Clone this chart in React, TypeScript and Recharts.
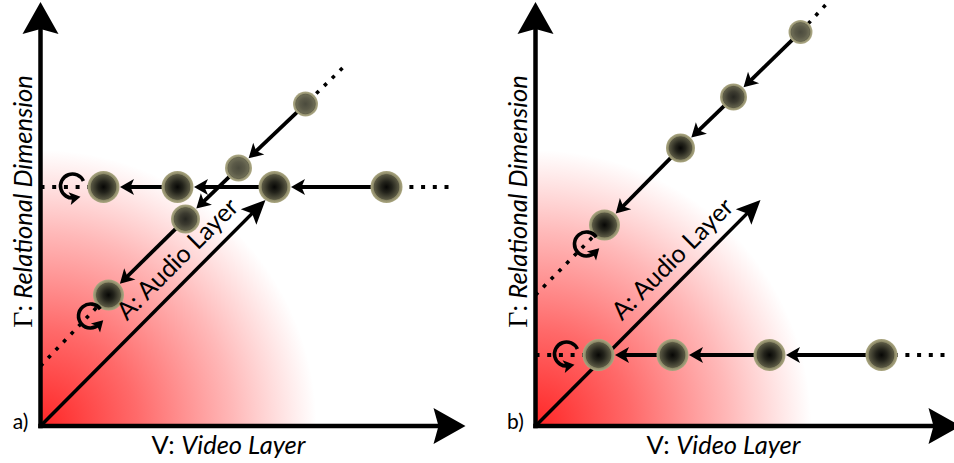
import React from "react";
import {
  ScatterChart,
  Scatter,
  XAxis,
  YAxis,
  ReferenceLine,
  ReferenceDot,
  ReferenceArea,
} from "recharts";

type Pt = { x: number; y: number };

// ---------- data (diagram units, origin at the corner of the axes) ----------
const AXIS_V: Pt[] = [{ x: 0, y: 0 }, { x: 425, y: 0 }];
const AXIS_GAMMA: Pt[] = [{ x: 0, y: 0 }, { x: 0, y: 424 }];
const AXIS_AUDIO: Pt[] = [{ x: 0, y: 0 }, { x: 225, y: 226 }];
const ZONE_RADIUS = 276;

// panel a)
const A_HORIZONTAL: Pt[] = [
  { x: 346, y: 239 },
  { x: 234, y: 239 },
  { x: 137, y: 239 },
  { x: 63, y: 239 },
];
const A_DIAGONAL: Pt[] = [
  { x: 265, y: 322 },
  { x: 198, y: 258 },
  { x: 145, y: 207 },
  { x: 68, y: 131 },
];
const A_HORIZONTAL_TRACK: Pt[] = [{ x: 0, y: 239 }, { x: 408, y: 239 }];
const A_DIAGONAL_TRACK: Pt[] = [{ x: 0, y: 60 }, { x: 302, y: 358 }];
const A_LOOPS: Pt[] = [{ x: 32, y: 240 }, { x: 50, y: 110 }];

// panel b)
const B_HORIZONTAL: Pt[] = [
  { x: 346, y: 71 },
  { x: 234, y: 71 },
  { x: 137, y: 71 },
  { x: 63, y: 71 },
];
const B_DIAGONAL: Pt[] = [
  { x: 265, y: 394 },
  { x: 198, y: 329 },
  { x: 145, y: 278 },
  { x: 69, y: 201 },
];
const B_HORIZONTAL_TRACK: Pt[] = [{ x: 0, y: 71 }, { x: 409, y: 71 }];
const B_DIAGONAL_TRACK: Pt[] = [{ x: 0, y: 131 }, { x: 290, y: 421 }];
const B_LOOPS: Pt[] = [{ x: 31, y: 72 }, { x: 51, y: 182 }];

// text
const LABEL_GAMMA = ["Γ", ": ", "Relational Dimension"];
const LABEL_V = ["V: ", "Video Layer"];
const LABEL_A = "A: Audio Layer";
const GAMMA_POS: Pt = { x: -9, y: 224.5 };
const V_POS: Pt = { x: 188, y: -28 };
const A_POS: Pt = { x: 143, y: 161 };
const TAG_POS: Pt = { x: -20, y: -3 };

// ---------- styles ----------
const FONT = "Lato, 'Open Sans', sans-serif";
const BALL_R = 16;

// ---------- drawing helpers ----------
function headPoints(tx: number, ty: number, ux: number, uy: number, len: number, hw: number, notch: number) {
  const nx = -uy;
  const ny = ux;
  const bx = tx - ux * len;
  const by = ty - uy * len;
  const mx = tx - ux * (len - notch);
  const my = ty - uy * (len - notch);
  return `${tx},${ty} ${bx + nx * hw},${by + ny * hw} ${mx},${my} ${bx - nx * hw},${by - ny * hw}`;
}

type ArrowOpts = { w: number; len: number; hw: number; notch: number; r0?: number; r1?: number; cap?: "butt" | "square" };

const arrowShape = (o: ArrowOpts) => (p: any) => {
  const { x1, y1, x2, y2 } = p;
  const dx = x2 - x1;
  const dy = y2 - y1;
  const L = Math.hypot(dx, dy) || 1;
  const ux = dx / L;
  const uy = dy / L;
  const r0 = o.r0 || 0;
  const r1 = o.r1 || 0;
  const sx = x1 + ux * r0;
  const sy = y1 + uy * r0;
  const tx = x2 - ux * r1;
  const ty = y2 - uy * r1;
  const ex = tx - ux * (o.len - o.notch - 0.5);
  const ey = ty - uy * (o.len - o.notch - 0.5);
  return (
    <g>
      <line x1={sx} y1={sy} x2={ex} y2={ey} stroke="#000" strokeWidth={o.w} strokeLinecap={o.cap || "butt"} />
      <polygon points={headPoints(tx, ty, ux, uy, o.len, o.hw, o.notch)} fill="#000" />
    </g>
  );
};

const loopShape = (a0: number, a1: number) => (p: any) => {
  const { cx, cy } = p;
  const r = 12;
  const rad = (d: number) => (d * Math.PI) / 180;
  const sx = cx + r * Math.cos(rad(a0));
  const sy = cy + r * Math.sin(rad(a0));
  const ex = cx + r * Math.cos(rad(a1));
  const ey = cy + r * Math.sin(rad(a1));
  const ux = Math.sin(rad(a1));
  const uy = -Math.cos(rad(a1));
  const tx = ex + ux * 6;
  const ty = ey + uy * 6;
  return (
    <g>
      <path d={`M${sx},${sy} A${r},${r} 0 1 0 ${ex},${ey}`} fill="none" stroke="#000" strokeWidth={3.6} />
      <polygon points={headPoints(tx, ty, ux, uy, 11, 6.5, 2.5)} fill="#000" />
    </g>
  );
};

function Defs({ id }: { id: string }) {
  return (
    <defs>
      <radialGradient id={`${id}-zone`} gradientUnits="objectBoundingBox" cx="0" cy="1" r="1">
        <stop offset="0" stopColor="#ff2626" stopOpacity={1} />
        <stop offset="0.35" stopColor="#ff2a2a" stopOpacity={0.7} />
        <stop offset="0.7" stopColor="#ff3030" stopOpacity={0.34} />
        <stop offset="1" stopColor="#ff3a3a" stopOpacity={0} />
      </radialGradient>
      <radialGradient id={`${id}-dark`}>
        <stop offset="0" stopColor="#070705" />
        <stop offset="0.35" stopColor="#23231b" />
        <stop offset="0.68" stopColor="#4d4c3a" />
        <stop offset="0.77" stopColor="#5c5a45" />
        <stop offset="0.81" stopColor="#8b8867" />
        <stop offset="1" stopColor="#aba781" />
      </radialGradient>
      <radialGradient id={`${id}-mid`}>
        <stop offset="0" stopColor="#262620" />
        <stop offset="0.4" stopColor="#3c3b30" />
        <stop offset="0.7" stopColor="#5a5946" />
        <stop offset="0.78" stopColor="#67654f" />
        <stop offset="0.82" stopColor="#8f8c6b" />
        <stop offset="1" stopColor="#aca883" />
      </radialGradient>
      <radialGradient id={`${id}-light`}>
        <stop offset="0" stopColor="#4b4b3d" />
        <stop offset="0.45" stopColor="#5b5a48" />
        <stop offset="0.72" stopColor="#6d6c55" />
        <stop offset="0.78" stopColor="#77755d" />
        <stop offset="0.82" stopColor="#959271" />
        <stop offset="1" stopColor="#b0ac88" />
      </radialGradient>
    </defs>
  );
}

function Ball({ cx, cy, r, grad }: { cx: number; cy: number; r: number; grad: string }) {
  return (
    <g>
      <circle cx={cx} cy={cy} r={r} fill={`url(#${grad})`} />
      <circle cx={cx} cy={cy} r={r * 0.79} fill="none" stroke="#4a4836" strokeOpacity={0.45} strokeWidth={0.8} />
    </g>
  );
}

type PanelProps = {
  id: string;
  tag: string;
  left: number;
  horizontal: Pt[];
  diagonal: Pt[];
  hTrack: Pt[];
  dTrack: Pt[];
  loops: Pt[];
  loopAngles: [number, number][];
  diagRadii: number[];
  diagShades: string[];
};

function Panel(props: PanelProps) {
  const { id, tag, left, horizontal, diagonal, hTrack, dTrack, loops, loopAngles, diagRadii, diagShades } = props;
  const right = 11;
  const width = left + 426 + right;
  const diagIndex = (pl: any) => diagonal.findIndex((d) => pl && d.x === pl.x && d.y === pl.y);
  const lastH = horizontal[horizontal.length - 1];
  const lastD = diagonal[diagonal.length - 1];
  // dotted tracks: only visible beyond the chain of points (the chain itself is drawn with solid arrows)
  const dotted: { seg: Pt[]; w: number; dash: string }[] = [
    { seg: [hTrack[0], lastH], w: 4, dash: "4 7.7" },
    { seg: [hTrack[1], horizontal[0]], w: 4, dash: "4 7.7" },
    { seg: [dTrack[0], lastD], w: 3.6, dash: "3.6 7.4" },
    { seg: [dTrack[1], diagonal[0]], w: 3.6, dash: "3.6 7.4" },
  ];

  return (
    <ScatterChart width={width} height={463} margin={{ top: 0, right, bottom: 37, left }}>
      <XAxis type="number" dataKey="x" domain={[0, 426]} hide allowDataOverflow />
      <YAxis type="number" dataKey="y" domain={[0, 426]} hide allowDataOverflow />

      <ReferenceArea
        x1={0}
        x2={ZONE_RADIUS}
        y1={0}
        y2={ZONE_RADIUS}
        ifOverflow="visible"
        shape={(p: any) => {
          const x0 = p.x;
          const y0 = p.y + p.height;
          const r = p.width;
          return (
            <g>
              <Defs id={id} />
              <path
                d={`M${x0},${y0} L${x0 + r},${y0} A${r},${r} 0 0 0 ${x0},${y0 - r} Z`}
                fill={`url(#${id}-zone)`}
              />
            </g>
          );
        }}
      />

      {dotted.map((d, i) => (
        <ReferenceLine
          key={`t${i}`}
          segment={d.seg}
          ifOverflow="visible"
          stroke="#000"
          strokeWidth={d.w}
          strokeDasharray={d.dash}
        />
      ))}

      <ReferenceLine segment={AXIS_V} ifOverflow="visible" shape={arrowShape({ w: 4.5, len: 32, hw: 18, notch: 5, cap: "square" })} />
      <ReferenceLine segment={AXIS_GAMMA} ifOverflow="visible" shape={arrowShape({ w: 4.5, len: 32, hw: 18, notch: 5, cap: "square" })} />
      <ReferenceLine segment={AXIS_AUDIO} ifOverflow="visible" shape={arrowShape({ w: 3.5, len: 24, hw: 11, notch: 5 })} />

      {horizontal.slice(1).map((t, i) => (
        <ReferenceLine
          key={`h${i}`}
          segment={[horizontal[i], t]}
          ifOverflow="visible"
          shape={arrowShape({ w: 4, len: 14, hw: 8, notch: 3.5, r0: BALL_R - 2, r1: BALL_R + 0.5 })}
        />
      ))}
      {diagonal.slice(1).map((t, i) => (
        <ReferenceLine
          key={`d${i}`}
          segment={[diagonal[i], t]}
          ifOverflow="visible"
          shape={arrowShape({ w: 3.8, len: 14, hw: 8, notch: 3.5, r0: diagRadii[i] - 2, r1: diagRadii[i + 1] + 0.5 })}
        />
      ))}

      <Scatter
        data={horizontal}
        isAnimationActive={false}
        shape={(p: any) => <Ball cx={p.cx} cy={p.cy} r={BALL_R} grad={`${id}-dark`} />}
      />
      <Scatter
        data={diagonal}
        isAnimationActive={false}
        shape={(p: any) => {
          let i = diagIndex(p.payload);
          if (i < 0) i = typeof p.index === "number" ? p.index : 3;
          return <Ball cx={p.cx} cy={p.cy} r={diagRadii[i]} grad={`${id}-${diagShades[i]}`} />;
        }}
      />

      {loops.map((l, i) => (
        <ReferenceDot
          key={`l${i}`}
          x={l.x}
          y={l.y}
          ifOverflow="visible"
          shape={loopShape(loopAngles[i][0], loopAngles[i][1])}
        />
      ))}

      <ReferenceDot
        x={A_POS.x}
        y={A_POS.y}
        ifOverflow="visible"
        shape={(p: any) => (
          <text
            x={p.cx}
            y={p.cy}
            transform={`rotate(-45 ${p.cx} ${p.cy})`}
            textAnchor="middle"
            fontFamily={FONT}
            fontSize={25}
            fill="#000"
          >
            {LABEL_A}
          </text>
        )}
      />
      <ReferenceDot
        x={GAMMA_POS.x}
        y={GAMMA_POS.y}
        ifOverflow="visible"
        shape={(p: any) => (
          <text
            x={p.cx}
            y={p.cy}
            transform={`rotate(-90 ${p.cx} ${p.cy})`}
            textAnchor="middle"
            fontFamily={FONT}
            fontSize={25.5}
            fill="#000"
          >
            <tspan fontFamily="'Liberation Serif', serif" fontSize={28}>{LABEL_GAMMA[0]}</tspan>
            <tspan>{LABEL_GAMMA[1]}</tspan>
            <tspan fontStyle="italic">{LABEL_GAMMA[2]}</tspan>
          </text>
        )}
      />
      <ReferenceDot
        x={V_POS.x}
        y={V_POS.y}
        ifOverflow="visible"
        shape={(p: any) => (
          <text x={p.cx} y={p.cy} textAnchor="middle" fontFamily={FONT} fontSize={25.5} fill="#000">
            <tspan>{LABEL_V[0]}</tspan>
            <tspan fontStyle="italic">{LABEL_V[1]}</tspan>
          </text>
        )}
      />
      <ReferenceDot
        x={TAG_POS.x}
        y={TAG_POS.y}
        ifOverflow="visible"
        shape={(p: any) => (
          <text x={p.cx} y={p.cy} textAnchor="middle" fontFamily={FONT} fontSize={21} fill="#000">
            {tag}
          </text>
        )}
      />
    </ScatterChart>
  );
}

export default function App() {
  return (
    <div
      style={{
        position: "absolute",
        left: 0,
        top: 0,
        width: 954,
        height: 463,
        overflow: "hidden",
        background: "#fff",
      }}
    >
      <div style={{ position: "absolute", left: 0, top: 0 }}>
        <Panel
          id="pa"
          tag="a)"
          left={40.5}
          horizontal={A_HORIZONTAL}
          diagonal={A_DIAGONAL}
          hTrack={A_HORIZONTAL_TRACK}
          dTrack={A_DIAGONAL_TRACK}
          loops={A_LOOPS}
          loopAngles={[[-25, 80], [-35, 45]]}
          diagRadii={[12.5, 13.5, 14.5, 15.5]}
          diagShades={["light", "light", "mid", "dark"]}
        />
      </div>
      <div style={{ position: "absolute", left: 477, top: 0 }}>
        <Panel
          id="pb"
          tag="b)"
          left={58.5}
          horizontal={B_HORIZONTAL}
          diagonal={B_DIAGONAL}
          hTrack={B_HORIZONTAL_TRACK}
          dTrack={B_DIAGONAL_TRACK}
          loops={B_LOOPS}
          loopAngles={[[-25, 80], [-35, 45]]}
          diagRadii={[12, 13.5, 14.5, 15.5]}
          diagShades={["light", "mid", "dark", "dark"]}
        />
      </div>
    </div>
  );
}
